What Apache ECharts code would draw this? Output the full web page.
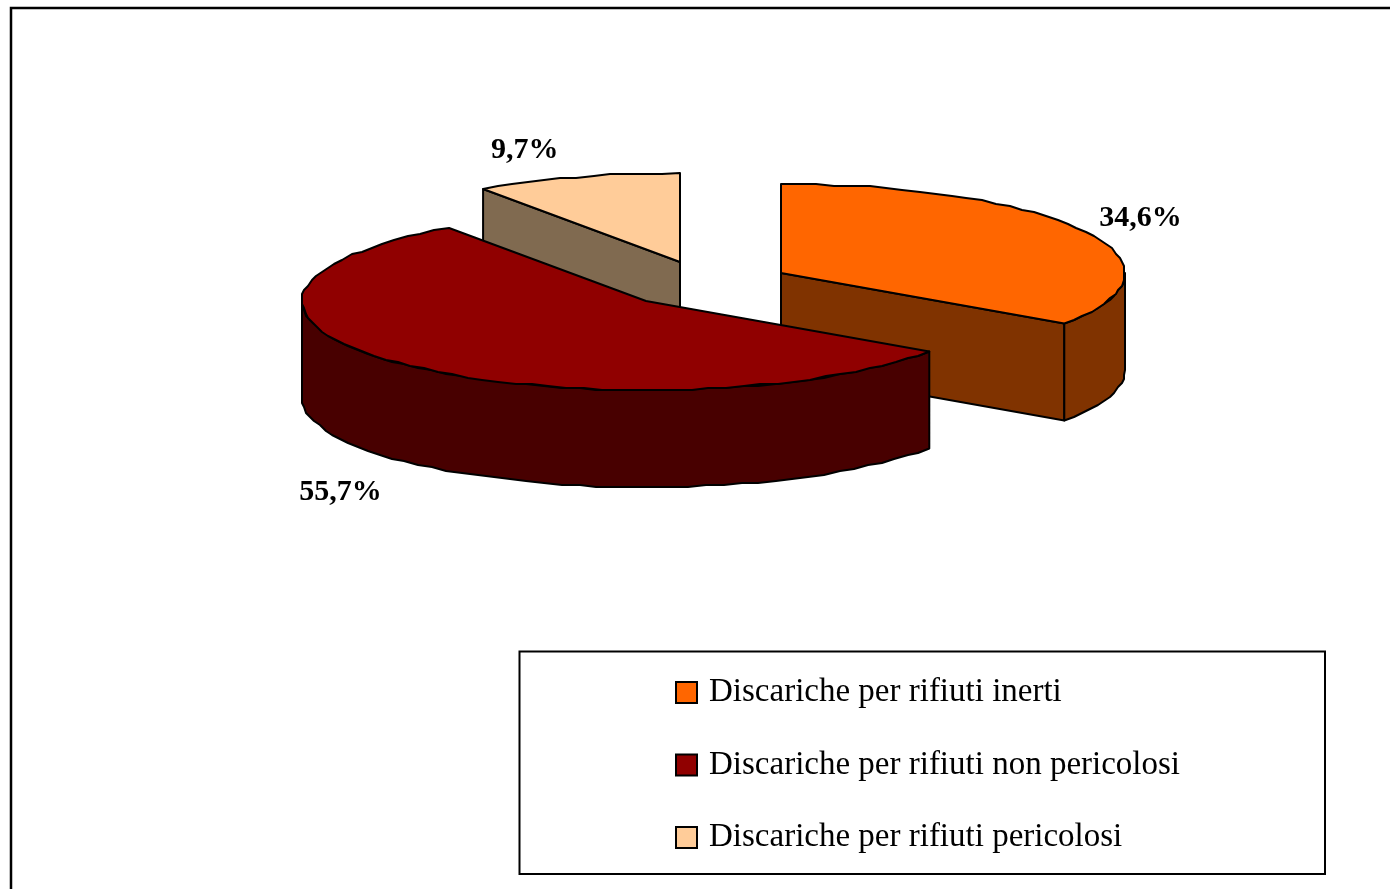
<!DOCTYPE html>
<html>
<head>
<meta charset="utf-8">
<style>
  html, body { margin: 0; padding: 0; background: #fff; overflow: hidden; }
  #chart { width: 1390px; height: 889px; }
</style>
<script src="https://cdn.jsdelivr.net/npm/echarts@6/dist/echarts.min.js"></script>
</head>
<body>
<div id="chart"></div>
<script>
const categories = [
  'Discariche per rifiuti inerti',
  'Discariche per rifiuti non pericolosi',
  'Discariche per rifiuti pericolosi'
];
const values = [34.6, 55.7, 9.7];

const topColors = ['#ff6600', '#900000', '#ffcc99'];
const wallColors = ['#803300', '#480000', '#806a50'];

// apex of each exploded slice, and where its label sits relative to the rim
const apexes = [[781, 273], [646, 301], [680, 262]];
const labelOffsets = [[55, -13], [-63, 128], [-52, -27]];
const sliceZ = [3, 4, 2];

const RX = 344;
const RY = 89;
const DEPTH = 97;
const GRID = 2;
const FONT = '"Liberation Serif", "Times New Roman", serif';

const total = values.reduce((a, b) => a + b, 0);

function rimPoint(apex, deg) {
  const r = deg * Math.PI / 180;
  return [apex[0] + RX * Math.sin(r), apex[1] - RY * Math.cos(r)];
}

// the original arcs are slightly stair-stepped, so snap them to a small grid
function rim(apex, from, to, dy) {
  const pts = [];
  const steps = Math.max(2, Math.round((to - from) / 3));
  for (let i = 0; i <= steps; i++) {
    const p = rimPoint(apex, from + (to - from) * i / steps);
    const snap = i > 0 && i < steps;
    pts.push([
      snap ? Math.round(p[0] / GRID) * GRID : p[0],
      (snap ? Math.round(p[1] / GRID) * GRID : p[1]) + dy
    ]);
  }
  return pts;
}

function poly(points, fill, z2) {
  return {
    type: 'polygon',
    z2: z2,
    shape: { points: points },
    style: { fill: fill, stroke: '#000', lineWidth: 2, lineJoin: 'round' }
  };
}

function renderSlice(index) {
  return function (params, api) {
    const value = api.value(0);
    const before = values.slice(0, index).reduce((a, b) => a + b, 0);
    const start = before / total * 360;
    const end = (before + value) / total * 360;
    const apex = apexes[index];
    const children = [];

    // flat cut faces that turn towards the viewer
    [start, end].forEach((deg, i) => {
      const visible = i === 0 ? deg > 180 && deg < 360 : deg > 0 && deg < 180;
      if (!visible) return;
      const p = rimPoint(apex, deg);
      children.push(poly([
        apex, p, [p[0], p[1] + DEPTH], [apex[0], apex[1] + DEPTH]
      ], wallColors[index], 1));
    });

    // curved outer wall, front half of the ellipse only
    const a = Math.max(start, 90);
    const b = Math.min(end, 270);
    if (a < b) {
      children.push(poly(
        rim(apex, a, b, 0).concat(rim(apex, a, b, DEPTH).reverse()),
        wallColors[index], 2
      ));
    }

    children.push(poly([apex].concat(rim(apex, start, end, 0)), topColors[index], 3));

    const mid = rimPoint(apex, (start + end) / 2);
    children.push({
      type: 'text',
      z2: 4,
      style: {
        x: mid[0] + labelOffsets[index][0],
        y: mid[1] + labelOffsets[index][1],
        text: String(value).replace('.', ',') + '%',
        align: 'center',
        verticalAlign: 'middle',
        fill: '#000',
        font: 'bold 30px ' + FONT
      }
    });
    return { type: 'group', children: children };
  };
}

const chart = echarts.init(document.getElementById('chart'), null, { renderer: 'canvas' });

chart.setOption({
  animation: false,
  backgroundColor: '#fff',
  graphic: [
    {
      type: 'rect',
      silent: true,
      shape: { x: 11, y: 8, width: 1500, height: 1000 },
      style: { fill: 'none', stroke: '#000', lineWidth: 2.5 }
    },
    {
      type: 'rect',
      silent: true,
      shape: { x: 519.5, y: 651.5, width: 805.5, height: 222.5 },
      style: { fill: '#fff', stroke: '#000', lineWidth: 2 }
    }
  ],
  legend: {
    data: categories,
    orient: 'vertical',
    left: 675,
    top: 676,
    padding: 0,
    icon: 'rect',
    itemWidth: 21,
    itemHeight: 21,
    itemGap: 39.5,
    selectedMode: false,
    itemStyle: { borderColor: '#000', borderWidth: 2 },
    textStyle: { fontFamily: FONT, fontSize: 33, color: '#000', padding: [0, 0, 0, 7] }
  },
  series: categories.map((name, i) => ({
    type: 'custom',
    name: name,
    coordinateSystem: 'none',
    silent: true,
    z: sliceZ[i],
    itemStyle: { color: topColors[i] },
    data: [[values[i]]],
    renderItem: renderSlice(i)
  }))
});
</script>
</body>
</html>
